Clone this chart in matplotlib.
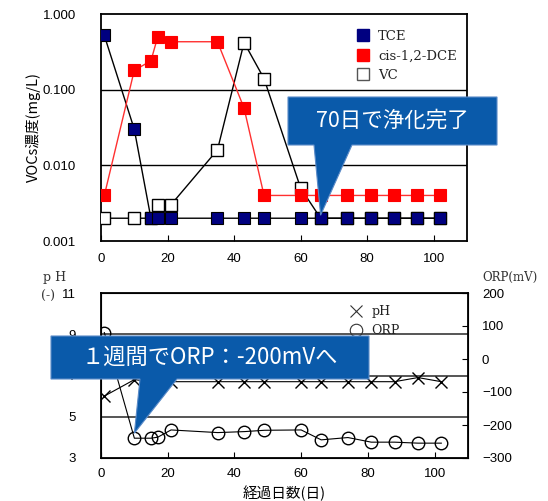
import matplotlib
matplotlib.use("Agg")
import matplotlib.pyplot as plt
from matplotlib.lines import Line2D
from matplotlib.patches import Polygon

# elapsed days
days = [1, 10, 15, 17, 21, 35, 43, 49, 60, 66, 74, 81, 88, 95, 102]
# VOC concentrations (mg/L)
tce = [0.52, 0.03, 0.002, 0.002, 0.002, 0.002, 0.002, 0.002, 0.002, 0.002, 0.002, 0.002, 0.002, 0.002, 0.002]
dce = [0.004, 0.18, 0.24, 0.49, 0.43, 0.43, 0.057, 0.004, 0.004, 0.004, 0.004, 0.004, 0.004, 0.004, 0.004]
vc = [0.002, 0.002, 0.002, 0.003, 0.003, 0.016, 0.42, 0.14, 0.005, 0.002, 0.002, 0.002, 0.002, 0.002, 0.002]
# pH (-) and ORP (mV)
ph = [6.0, 6.8, 6.7, 6.7, 6.7, 6.7, 6.7, 6.7, 6.7, 6.7, 6.7, 6.7, 6.7, 6.9, 6.7]
orp = [80, -240, -240, -237, -215, -223, -220, -216, -215, -245, -238, -252, -252, -255, -255]

xticks = [0, 20, 40, 60, 80, 100]
voc_ticks = [0.001, 0.01, 0.1, 1.0]
voc_labels = ["0.001", "0.010", "0.100", "1.000"]
ph_ticks = [3, 5, 7, 9, 11]
orp_ticks = [-300, -200, -100, 0, 100, 200]

sans = "Liberation Sans"
serif = "DejaVu Serif"
cjk = ["Noto Sans CJK JP", "DejaVu Sans"]
navy = "#000080"
blue = "#0A5AAA"

W, H = 548, 501
fig = plt.figure(figsize=(W / 100, H / 100), dpi=100)


def px(x, y):
    return (x / W, 1 - y / H)


# ---- top: VOCs ----
ax = fig.add_axes([101 / W, 1 - 241 / H, 366 / W, 227 / H])
ax.set_yscale("log")
ax.set_xlim(0, 110)
ax.set_ylim(0.001, 1.0)
for g in [0.01, 0.1]:
    ax.axhline(g, color="black", lw=1, zorder=1)
ax.plot(days, vc, color="black", lw=1, marker="s", ms=8, mfc="white", mec="black", mew=1, zorder=3)
ax.plot(days, tce, color="black", lw=1, marker="s", ms=8, mfc=navy, mec="black", mew=0.8, zorder=4)
ax.plot(days, dce, color="#FF3030", lw=1, marker="s", ms=8, mfc="red", mec="red", mew=0.8, zorder=5)
ax.set_xticks(xticks)
ax.set_yticks(voc_ticks)
ax.set_yticklabels(voc_labels)
ax.minorticks_off()
ax.tick_params(axis="x", direction="in", length=4, pad=9, labelsize=9.5)
ax.tick_params(axis="y", length=0, pad=18, labelsize=9.5)
for lab in ax.get_xticklabels() + ax.get_yticklabels():
    lab.set_fontfamily(sans)
for s in ax.spines.values():
    s.set_linewidth(1.3)
ax.set_ylabel("VOCs濃度(mg/L)", family=cjk, fontsize=10.5, labelpad=1)

h_top = [
    Line2D([], [], ls="none", marker="s", ms=8, mfc=navy, mec=navy),
    Line2D([], [], ls="none", marker="s", ms=8, mfc="red", mec="red"),
    Line2D([], [], ls="none", marker="s", ms=8, mfc="white", mec="#555555"),
]
ax.legend(h_top, ["TCE", "cis-1,2-DCE", "VC"], loc="upper left",
          bbox_to_anchor=px(345, 18), bbox_transform=fig.transFigure,
          frameon=False, handlelength=1.0, handletextpad=0.6,
          labelspacing=0.5, prop={"family": serif, "size": 9.5},
          labelcolor="#222222")

# ---- bottom: pH / ORP ----
bx = fig.add_axes([101 / W, 1 - 458 / H, 367 / W, 165 / H])
bx.set_xlim(0, 110)
bx.set_ylim(3, 11)
for g in [5, 7, 9]:
    bx.axhline(g, color="#555555", lw=1.4, zorder=1)
bx.plot(days, ph, color="black", lw=0.8, marker="x", ms=8, mew=1, zorder=3)
bx.set_xticks(xticks)
bx.set_yticks(ph_ticks)
bx.tick_params(axis="x", direction="in", length=4, pad=7, labelsize=9.5)
bx.tick_params(axis="y", length=0, pad=18, labelsize=9.5)
for s in bx.spines.values():
    s.set_linewidth(1.3)

bx2 = bx.twinx()
bx2.set_ylim(-300, 200)
bx2.plot(days, orp, color="black", lw=0.8, marker="o", ms=9, mfc="none", mec="black", mew=1, zorder=3)
bx2.set_yticks(orp_ticks)
bx2.tick_params(axis="y", direction="in", length=4, pad=10, labelsize=9.5)
for lab in bx.get_xticklabels() + bx.get_yticklabels() + bx2.get_yticklabels():
    lab.set_fontfamily(sans)
bx.set_xlabel("経過日数(日)", family=cjk, fontsize=10.5, labelpad=4)

h_bot = [
    Line2D([], [], ls="none", marker="x", ms=8, mec="#333333", mew=0.8),
    Line2D([], [], ls="none", marker="o", ms=9, mfc="none", mec="#333333", mew=0.8),
]
bx2.legend(h_bot, ["pH", "ORP"], loc="upper left",
           bbox_to_anchor=px(338, 294), bbox_transform=fig.transFigure,
           frameon=False, handlelength=1.0, handletextpad=0.8,
           labelspacing=0.45, prop={"family": serif, "size": 9},
           labelcolor="#222222")

fig.text(*px(43, 278), "p H", family=serif, fontsize=9, color="#333333", va="center", ha="left")
fig.text(*px(41, 296), "(-)", family=serif, fontsize=9, color="#333333", va="center", ha="left")
fig.text(*px(482, 277), "ORP(mV)", family=serif, fontsize=8.5, color="#333333", va="center", ha="left")

# ---- callouts ----
to_fig = fig.transFigure.inverted()


def callout(box, base, tip_ax, tip_xy, offset_px, text, size):
    x0, y0, x1, y1 = box
    bl, br = base
    tx, ty = to_fig.transform(tip_ax.transData.transform(tip_xy))
    ty += offset_px / H
    pts = [px(x0, y0), px(x1, y0), px(x1, y1), px(br, y1), (tx, ty), px(bl, y1), px(x0, y1)]
    fig.add_artist(Polygon(pts, closed=True, transform=fig.transFigure,
                           fc=blue, ec="#5B8BC8", lw=0.8, zorder=10))
    fig.text((x0 + x1) / 2 / W, 1 - (y0 + y1) / 2 / H, text, color="white",
             family=cjk, fontsize=size, ha="center", va="center", zorder=11)


callout((288, 97, 497, 145), (314, 352), ax, (days[9], tce[9]), 3, "70日で浄化完了", 15.5)
callout((51, 336, 369, 379), (140, 177), bx2, (days[1], orp[1]), 5, "１週間でORP：-200mVへ", 16)

fig.savefig("out.png", dpi=100)
